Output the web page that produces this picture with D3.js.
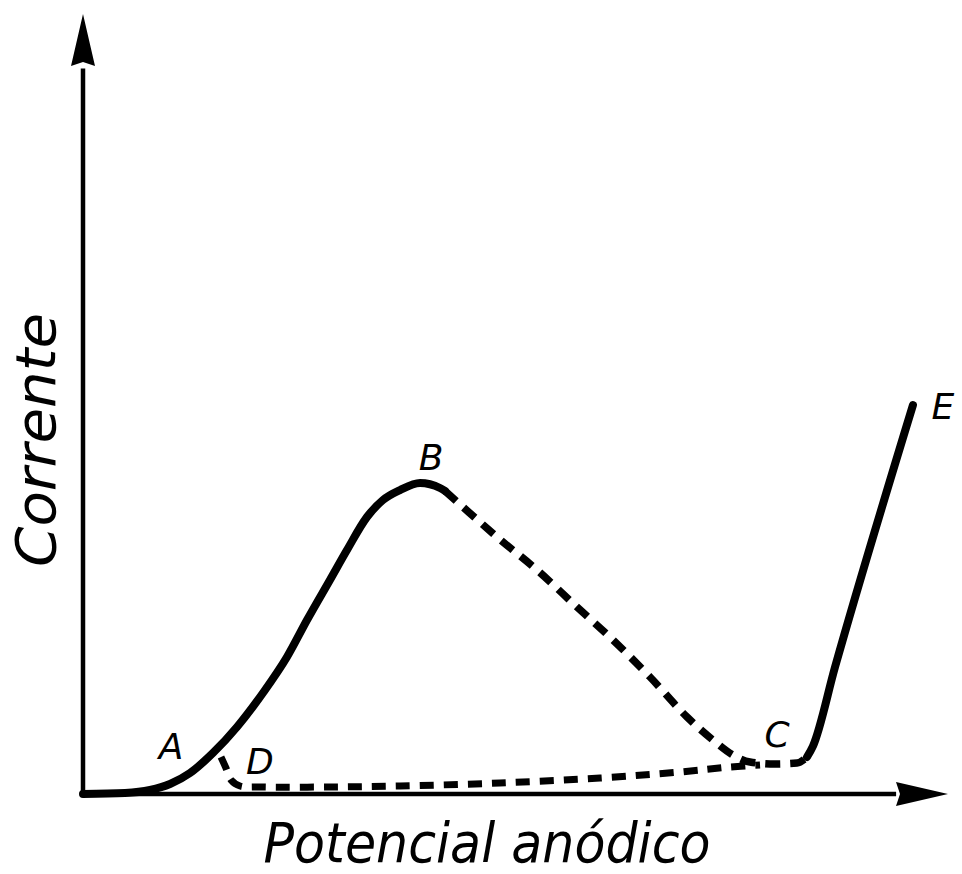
<!DOCTYPE html>
<html>
<head>
<meta charset="utf-8">
<script src="https://cdn.jsdelivr.net/npm/d3@7"></script>
<style>
  body { margin: 0; background: #fff; }
  #chart { width: 962px; height: 874px; }
  .lbl { font-family: "DejaVu Sans", "Liberation Sans", sans-serif; font-style: italic; fill: #000; }
</style>
</head>
<body>
<div id="chart"></div>
<script>

// curve A -> B (solid), potential vs current in arbitrary units
const abPotential = [0, 4.86, 7.75, 10.06, 12.37, 15.03, 17.8, 20.8, 23.58, 25.9, 28.55, 30.52, 32.83, 34.68, 36.65, 38.96, 41.27, 41.85];
const abCurrent   = [0, 0.13, 0.51, 1.28, 2.69, 5.26, 8.59, 12.95, 17.56, 22.3, 27.44, 31.28, 35.51, 37.69, 38.97, 39.87, 39.23, 38.85];

// B -> C (dashed)
const bcPotential = [41.85, 43.93, 47.86, 52.49, 57.11, 61.27, 65.55, 69.83, 72.83, 75.14, 77.11, 80.0, 82.54, 83.7];
const bcCurrent   = [38.85, 36.79, 32.95, 28.72, 23.97, 19.74, 15.0, 9.87, 6.92, 5.0, 4.10, 3.85, 3.97, 4.74];

// C -> E (solid)
const cePotential = [83.7, 84.39, 86.94, 95.95];
const ceCurrent   = [4.74, 6.15, 16.28, 49.87];

// D -> C (dashed, return)
const dcPotential = [15.95, 16.53, 17.11, 18.15, 20.8, 28.55, 36.65, 48.2, 59.77, 69.0, 74.8, 78.27];
const dcCurrent   = [4.74, 3.33, 1.79, 1.03, 0.90, 0.90, 1.03, 1.41, 2.05, 2.82, 3.46, 3.72];

// point labels
const pointNames = ["A", "B", "C", "D", "E"];
const pointX     = [10.17, 40.23, 80.23, 20.46, 99.42];
const pointY     = [6.15, 43.08, 7.69, 4.23, 49.74];

const xTitle = "Potencial anódico";
const yTitle = "Corrente";

const width = 962, height = 874;

const svg = d3.select("#chart")
    .append("svg")
    .attr("width", width)
    .attr("height", height);

const x = d3.scaleLinear().domain([0, 100]).range([83, 948]);
const y = d3.scaleLinear().domain([0, 100]).range([794, 14]);

//AXES
svg.append("line")
    .attr("x1", x(0)).attr("y1", y(0) + 2)
    .attr("x2", x(0)).attr("y2", y(93))
    .attr("stroke", "#000").attr("stroke-width", 4.5);

svg.append("line")
    .attr("x1", x(0) - 2).attr("y1", y(0))
    .attr("x2", x(94)).attr("y2", y(0))
    .attr("stroke", "#000").attr("stroke-width", 4.5);

// arrow heads
const yTip = [x(0), y(100)];
svg.append("path")
    .attr("d", `M${yTip[0]},${yTip[1]} L${yTip[0] + 12},${yTip[1] + 52} L${yTip[0]},${yTip[1] + 48} L${yTip[0] - 12},${yTip[1] + 52} Z`)
    .attr("fill", "#000");

const xTip = [x(100), y(0)];
svg.append("path")
    .attr("d", `M${xTip[0]},${xTip[1]} L${xTip[0] - 52},${xTip[1] - 12} L${xTip[0] - 48},${xTip[1]} L${xTip[0] - 52},${xTip[1] + 12} Z`)
    .attr("fill", "#000");

//CURVES
const line = d3.line()
    .x(d => x(d[0]))
    .y(d => y(d[1]))
    .curve(d3.curveMonotoneX);

const zip = (a, b) => a.map((v, i) => [v, b[i]]);

svg.append("path")
    .datum(zip(abPotential, abCurrent))
    .attr("d", line)
    .attr("fill", "none").attr("stroke", "#000")
    .attr("stroke-width", 8).attr("stroke-linecap", "round");

svg.append("path")
    .datum(zip(bcPotential, bcCurrent))
    .attr("d", line)
    .attr("fill", "none").attr("stroke", "#000")
    .attr("stroke-width", 7.5)
    .attr("stroke-dasharray", "15,10");

svg.append("path")
    .datum(zip(dcPotential, dcCurrent))
    .attr("d", line.curve(d3.curveCatmullRom.alpha(0.5)))
    .attr("fill", "none").attr("stroke", "#000")
    .attr("stroke-width", 7)
    .attr("stroke-dasharray", "14,10");

svg.append("path")
    .datum(zip(cePotential, ceCurrent))
    .attr("d", line.curve(d3.curveMonotoneX))
    .attr("fill", "none").attr("stroke", "#000")
    .attr("stroke-width", 8).attr("stroke-linecap", "round");

//LABELS
svg.selectAll(".pt")
    .data(pointNames)
    .enter()
    .append("text")
    .attr("class", "lbl pt")
    .attr("x", (d, i) => x(pointX[i]))
    .attr("y", (d, i) => y(pointY[i]))
    .attr("text-anchor", "middle")
    .attr("dominant-baseline", "central")
    .style("font-size", "36px")
    .text(d => d);

svg.append("text")
    .attr("class", "lbl")
    .attr("x", 487)
    .attr("y", 862)
    .attr("text-anchor", "middle")
    .attr("textLength", 447)
    .attr("lengthAdjust", "spacingAndGlyphs")
    .style("font-size", "55px")
    .text(xTitle);

svg.append("text")
    .attr("class", "lbl")
    .attr("transform", "translate(55,440) rotate(-90)")
    .attr("text-anchor", "middle")
    .attr("textLength", 254)
    .attr("lengthAdjust", "spacingAndGlyphs")
    .style("font-size", "56px")
    .text(yTitle);

</script>
</body>
</html>
